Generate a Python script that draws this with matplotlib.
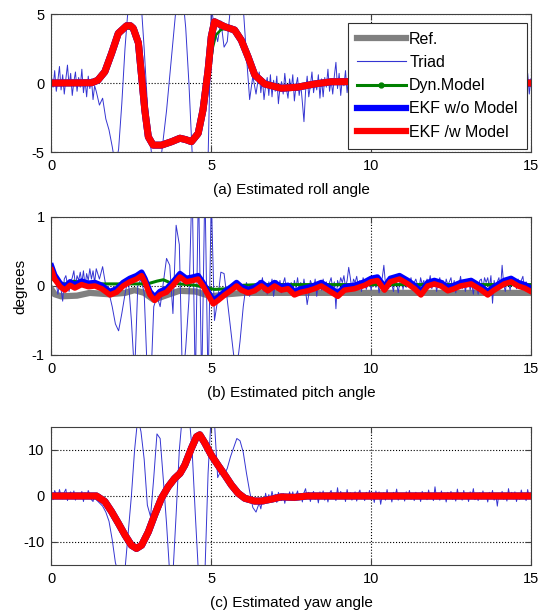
import numpy as np
import matplotlib.pyplot as plt
from matplotlib.lines import Line2D

plt.rcParams['font.family'] = ['Liberation Sans', 'DejaVu Sans']
plt.rcParams['axes.unicode_minus'] = False

# Triad samples: 0.05 s where it is just sensor noise, 0.1 s across the big swings
t_triad = np.concatenate([np.arange(28) * 0.05,
                          np.arange(14, 65) / 10.0,
                          6.5 + np.arange(171) * 0.05])

# ---- roll (a) ----
roll_triad = [
    # 0.00 - 1.35
    0.4, -0.3, 0.9, -0.6, 0.2, 1.2, -0.5, 0.6, -0.8, 0.3,
    1.3, -0.2, 0.7, -0.9, 0.1, 0.8, -0.6, 0.4, -0.3, 1.0,
    -0.7, 0.2, -1.0, 0.5, -0.4, 0.3, -1.2, -0.2,
    # 1.4 - 6.4
    -0.6, -1.6, -1.1, -2.6, -3.4, -4.6,
    -6.0, -4.8, -1.5, 2.5, 5.5, 8.0, 9.0, 8.0, 6.0, 2.5,
    -1.5, -4.5, -6.5, -7.5, -6.0, -4.0, -2.0, 0.5, 3.0, 5.5,
    7.0, 6.5, 4.0, 0.0, -5.0, -8.0, -9.0, -9.0, -8.0, -5.5,
    5.5, 4.0, 3.0, 4.5, 2.6, 3.0, 5.5, 7.5, 8.0, 7.5,
    5.5, 2.0, -1.2, 0.5, -0.8,
    # 6.5 - 15.0
    0.8, -0.7, 0.3, -1.2, -0.2, 0.4, -0.9, 0.6, -1.0, 0.2,
    -0.6, 0.5, -1.5, -0.3, 0.1, -0.8, 0.7, -0.4, -1.1, 0.3,
    -0.5, 0.6, -1.3, -0.2, 0.4, -0.9, -0.1, -1.4, -2.8, -0.6,
    0.5, -1.0, -0.2, 0.8, -0.7, 0.1, -0.5, 0.6, -1.1, 0.3,
    -1.0, 0.4, -0.3, 1.0, -0.6, 0.2, -0.8, 0.5, 1.5, -0.4,
    0.7, -0.9, 0.3, -0.2, 0.9, -0.7, 0.4, -0.5, 0.8, -0.3,
    0.5, -0.6, 0.3, -0.4, 0.7, -0.2, 0.4, -0.7, 0.2, 0.6,
    -0.5, 0.3, -0.3, 0.5, -0.6, 0.2, 0.4, -0.4, 0.6, -0.2,
    0.3, -0.5, 0.6, -0.3, 0.2, -0.6, 0.5, -0.2, 0.4, -0.5,
    0.3, -0.4, 0.6, -0.3, 0.2, -0.5, 0.4, -0.2, 0.5, -0.6,
    0.4, -0.3, 0.5, -0.6, 0.2, -0.4, 0.6, -0.2, 0.3, -0.5,
    0.4, -0.3, 0.6, -0.4, 0.2, -0.6, 0.5, -0.3, 0.4, -0.2,
    0.5, -0.4, 0.3, -0.6, 0.6, -0.2, 0.4, -0.5, 0.2, -0.3,
    0.6, -0.5, 0.3, -0.2, 0.5, -0.6, 0.4, -0.3, 0.2, -0.4,
    0.6, -0.3, 0.4, -0.5, 0.3, -0.6, 0.5, -0.2, 0.4, -0.4,
    0.2, -0.5, 0.6, -0.3, 0.3, -0.6, 0.5, -0.2, 0.4, -0.5,
    0.3, -0.4, 0.6, -0.3, 0.5, -0.6, 0.9, -0.5, 0.7, -0.8,
    0.3,
]
# Ref., EKF w/o and EKF /w model sit on top of each other in roll
roll_t = [0, 1.26, 1.45, 1.67, 1.88, 2.09, 2.35, 2.47, 2.56, 2.72, 2.82,
          2.92, 3.03, 3.18, 3.44, 3.76, 4.02, 4.2, 4.38, 4.59, 4.74,
          4.9, 5.0, 5.1, 5.42, 5.73, 5.94, 6.15, 6.36, 6.67, 7.19,
          7.7, 8.23, 8.75, 9.3, 10.0, 12.0, 15.0]
roll_ekf = [0, 0.02, 0.2, 0.82, 2.15, 3.6, 4.15, 4.15, 3.96, 2.9, 0.46,
            -1.96, -3.9, -4.5, -4.5, -4.25, -4.0, -4.1, -4.25, -3.65, -1.96,
            0.94, 3.36, 4.44, 4.08, 3.84, 3.1, 1.9, 0.58, -0.07, -0.38,
            -0.3, -0.07, 0.09, 0.1, 0.05, 0.0, 0.0]
roll_dyn_t = [0, 1.3, 1.67, 1.88, 2.09, 2.35, 2.56, 2.72, 2.82, 2.92,
              3.03, 3.13, 3.25, 3.45, 3.76, 4.02, 4.38, 4.6, 4.76, 4.92,
              5.05, 5.15, 5.3, 5.45, 5.73, 5.94, 6.15, 6.36, 6.67, 7.19,
              7.7, 8.23, 8.75, 9.3, 15.0]
roll_dyn = [0, 0, 0.8, 2.1, 3.5, 4.0, 3.85, 2.8, 0.4, -2.2,
            -3.6, -4.3, -4.6, -4.55, -4.3, -4.1, -4.3, -3.75, -2.2, 0.4,
            2.6, 3.5, 3.85, 3.95, 3.8, 3.05, 1.85, 0.55, -0.1, -0.4,
            -0.35, -0.1, 0.05, 0.1, 0.0]

# ---- pitch (b) ----
pitch_triad = [
    # 0.00 - 1.35
    0.30, 0.25, 0.18, 0.05, -0.12, 0.02, -0.05, -0.22, 0.10, 0.15,
    0.02, -0.08, 0.05, 0.12, 0.22, 0.00, 0.15, 0.08, 0.20, 0.05,
    0.22, 0.00, 0.18, 0.08, 0.25, 0.10, 0.22, 0.05,
    # 1.4 - 6.4
    0.25, 0.10, 0.28, 0.00, -0.10, -0.30,
    -0.55, -0.65, -0.40, -0.12, 0.12, -0.50, -1.30, 0.00, 0.10, -0.10,
    -1.30, -1.50, -0.30, -0.15, -0.30, 0.05, 0.40, 0.30, -0.40, 0.88,
    0.60, -1.40, -0.90, -0.20, 1.50, -1.50, 1.50, -1.50, 1.50, -1.50,
    1.30, -0.50, -0.20, 0.20, 0.18, -0.20, -0.60, -1.00, -1.20, -0.80,
    -0.30, 0.05, -0.15, 0.02, -0.10,
    # 6.5 - 15.0
    0.08, -0.05, 0.12, -0.08, 0.03, -0.12, 0.06, -0.04, 0.10, -0.15,
    0.02, 0.08, -0.05, 0.08, -0.10, 0.04, 0.12, -0.06, 0.02, -0.08,
    0.05, -0.10, 0.08, -0.03, 0.12, -0.06, 0.05, -0.08, 0.10, -0.06,
    -0.27, -0.12, 0.08, 0.02, -0.05, 0.10, -0.15, 0.06, 0.02, -0.06,
    0.10, -0.04, 0.06, -0.10, 0.05, 0.12, -0.04, 0.06, -0.33, 0.08,
    0.00, 0.12, 0.05, 0.15, -0.02, 0.08, 0.27, 0.12, -0.05, 0.10,
    0.05, 0.14, 0.00, 0.08, -0.08, 0.12, 0.05, -0.05, 0.04, 0.10,
    -0.06, 0.06, 0.15, -0.02, 0.08, -0.10, 0.05, 0.12, 0.30, 0.03,
    0.10, -0.04, 0.08, 0.02, -0.08, 0.12, 0.04, -0.10, 0.06, 0.15,
    -0.05, 0.08, -0.02, 0.10, 0.04, 0.12, -0.06, 0.05, 0.10, 0.02,
    -0.05, 0.12, 0.02, 0.08, -0.06, 0.10, 0.03, 0.15, -0.04, 0.06,
    0.10, -0.08, 0.05, 0.12, -0.03, 0.08, -0.06, 0.10, 0.02, 0.06,
    0.12, -0.05, 0.08, -0.10, 0.06, 0.02, 0.14, -0.04, 0.08, -0.08,
    0.05, 0.10, -0.06, 0.04, -0.12, 0.06, 0.02, -0.12, 0.08, 0.10,
    -0.04, 0.12, 0.05, 0.12, -0.02, 0.15, -0.25, 0.08, -0.05, 0.06,
    0.12, -0.04, 0.30, 0.02, -0.08, 0.08, 0.05, -0.06, 0.10, 0.02,
    0.06, -0.04, 0.10, -0.02, 0.08, 0.14, -0.05, 0.06, 0.02, -0.03,
    0.02,
]
pitch_t = [0, 0.1, 0.27, 0.42, 0.58, 0.73, 0.94, 1.15, 1.36, 1.57,
           1.83, 2.04, 2.24, 2.45, 2.66, 2.82, 2.92, 3.08, 3.23, 3.39,
           3.6, 3.8, 4.02, 4.22, 4.43, 4.59, 4.74, 4.9, 5.06, 5.21,
           5.42, 5.63, 5.79, 5.94, 6.15, 6.35, 6.57, 6.77, 6.98, 7.19,
           7.4, 7.6, 7.81, 8.02, 8.23, 8.44, 8.65, 8.96, 9.17, 9.48,
           9.8, 10.0, 10.2, 10.42, 10.6, 10.89, 11.15, 11.36, 11.56, 11.77,
           11.98, 12.19, 12.4, 12.6, 12.8, 13.13, 13.45, 13.65, 13.85, 14.17,
           14.38, 14.6, 14.8, 15.0]
pitch_ekf = [0.23, 0.10, -0.01, -0.06, 0.01, -0.03, 0.02, -0.01, 0.0, -0.04,
             -0.13, -0.09, 0.0, 0.06, 0.10, 0.15, 0.06, -0.13, -0.21, -0.13,
             -0.09, 0.01, 0.13, 0.06, 0.08, 0.10, 0.0, -0.13, -0.26, -0.21,
             -0.13, -0.06, 0.0, -0.06, -0.10, -0.07, 0.0, -0.07, 0.0, -0.06,
             -0.04, -0.13, -0.09, -0.07, -0.04, 0.0, -0.06, -0.15, -0.06, -0.04,
             0.01, 0.06, 0.08, -0.06, 0.06, 0.10, 0.03, -0.04, -0.13, 0.0,
             0.03, 0.0, -0.07, -0.04, 0.0, 0.03, -0.06, -0.13, -0.06, 0.03,
             0.06, 0.0, -0.03, -0.08]
pitch_ekf_nomodel = [0.29, 0.16, 0.04, -0.01, 0.06, 0.02, 0.07, 0.04, 0.05, 0.01,
                     -0.08, -0.04, 0.05, 0.11, 0.15, 0.20, 0.11, -0.08, -0.16, -0.08,
                     -0.04, 0.06, 0.18, 0.11, 0.13, 0.15, 0.05, -0.08, -0.21, -0.16,
                     -0.08, -0.01, 0.05, -0.01, -0.05, -0.02, 0.05, -0.02, 0.05, -0.01,
                     0.01, -0.08, -0.04, -0.02, 0.01, 0.05, -0.01, -0.10, -0.01, 0.01,
                     0.06, 0.11, 0.13, -0.01, 0.11, 0.15, 0.08, 0.01, -0.08, 0.05,
                     0.08, 0.05, -0.02, 0.01, 0.05, 0.08, -0.01, -0.08, -0.01, 0.08,
                     0.11, 0.05, 0.02, -0.03]
pitch_ref_t = [0, 0.1, 0.3, 0.8, 1.2, 1.8, 2.3, 2.6, 2.9, 3.2, 3.5, 4.0,
               4.5, 5.0, 5.5, 6.0, 15.0]
pitch_ref = [-0.05, -0.12, -0.15, -0.14, -0.10, -0.12, -0.10, -0.06, -0.10,
             -0.20, -0.15, -0.07, -0.08, -0.15, -0.12, -0.10, -0.10]
pitch_dyn_t = [0, 0.2, 0.5, 0.7, 1.0, 2.0, 2.5, 3.0, 3.3, 3.5, 3.7, 4.0,
               4.5, 4.8, 5.1, 5.5, 6.0, 6.5, 15.0]
pitch_dyn = [0.12, 0.03, 0.03, 0.07, 0.03, 0.03, 0.03, 0.03, 0.07, 0.09,
             0.05, 0.03, 0.01, -0.02, -0.05, -0.04, 0.01, 0.02, 0.02]

# ---- yaw (c) ----
yaw_triad = [
    # 0.00 - 1.35
    0.5, -0.8, 1.2, 0.3, -0.5, 1.4, 0.0, -0.6, 0.8, 1.5,
    -1.0, 0.4, 0.9, -0.3, 1.1, -0.9, 0.6, 0.2, -0.5, 1.0,
    -1.2, 0.7, -0.4, 1.2, 0.3, -0.8, -1.2, 0.4,
    # 1.4 - 6.4
    -0.8, -1.5, -2.2, -3.5, -5.5, -9.5,
    -14.5, -17.0, -18.0, -16.0, -8.0, 0.0, 10.0, 17.0, 14.0, 8.0,
    -2.0, -4.5, 4.0, 13.5, 12.5, 3.5, -6.0, -17.0, -17.0, -4.0,
    10.0, 18.0, 20.0, 18.0, 10.0, -4.0, -17.0, -20.0, -17.0, 5.0,
    18.0, 16.0, 4.0, 5.5, 4.5, 6.0, 8.5, 10.5, 12.5, 12.0,
    9.5, 5.0, 1.0, -2.5, -3.5,
    # 6.5 - 15.0
    -1.5, -2.8, -0.8, -1.8, 0.6, -1.2, 0.3, -0.9, 1.0, -0.5,
    0.4, -1.4, 0.8, -0.3, -1.0, 0.5, -1.6, 0.2, -0.7, 0.9,
    -0.6, 0.9, -1.0, 0.2, 1.1, -0.8, 0.5, -1.3, 0.7, 1.6,
    -0.4, 0.8, -1.2, 0.3, 1.0, -0.7, 0.5, -1.5, 0.9, -0.2,
    1.1, -0.9, 0.4, -1.3, 0.6, 1.2, -0.5, 0.3, -1.0, 1.8,
    -0.6, 1.0, -0.3, 0.5, -1.2, 1.4, -0.4, 0.7, -0.9, 0.2,
    0.9, -1.1, 0.5, 1.3, -0.6, 0.3, -1.0, 0.8, -0.4, 1.2,
    -0.8, 0.4, -1.4, 1.1, -0.5, 0.9, -1.8, 0.2, 0.7, -0.9,
    1.4, -0.6, 0.5, -1.3, 0.8, -0.2, 1.5, -0.9, 0.4, -0.5,
    0.6, -1.1, 0.9, -0.3, 1.2, -0.7, 0.4, -1.0, 0.8, -0.4,
    0.5, -1.2, 1.0, -0.3, 0.7, -0.8, 1.3, -0.5, 0.2, -1.0,
    2.0, -0.6, 0.4, -0.9, 1.1, -0.4, 0.6, -1.3, 0.8, -0.2,
    1.0, -0.7, 0.3, -1.1, 1.5, -0.4, 0.6, -0.9, 1.2, -0.5,
    0.4, -1.2, 0.9, -0.3, 1.6, -0.8, 0.2, -1.0, 0.7, -0.6,
    1.1, -0.5, 0.4, -1.3, 0.8, -0.2, 1.2, -0.9, 0.5, -2.2,
    0.6, -0.4, 1.0, -0.7, 0.3, -1.1, 1.6, -0.5, 0.8, -0.6,
    0.9, -1.2, 0.4, -0.7, 1.3, -0.3, 0.6, -1.0, 1.4, -0.5,
    0.6,
]
yaw_t = [0, 1.41, 1.67, 1.88, 2.09, 2.3, 2.5, 2.66, 2.82, 3.03,
         3.23, 3.44, 3.65, 3.85, 4.02, 4.17, 4.38, 4.54, 4.64, 4.8,
         5.0, 5.21, 5.42, 5.63, 5.84, 6.05, 6.36, 6.57, 6.88, 7.19,
         7.6, 8.0, 9.0, 15.0]
yaw_ekf = [0, 0, -1.2, -3.4, -5.9, -8.5, -10.7, -11.4, -10.7, -7.8,
           -4.1, -0.5, 2.0, 3.8, 4.9, 6.7, 10.4, 12.9, 13.3, 11.5,
           8.9, 6.7, 4.6, 2.4, 0.6, -0.5, -1.1, -1.1, -0.7, -0.2,
           -0.3, 0.0, 0.0, 0.0]

xticks = [0, 5, 10, 15]
labels = ['(a) Estimated roll angle', '(b) Estimated pitch angle',
          '(c) Estimated yaw angle']

c_ref = '#808080'
c_triad = '#3535d2'
c_dyn = '#008000'
c_nom = '#0000ff'
c_mod = '#ff0000'

fig = plt.figure(figsize=(5.46, 6.15), dpi=100)
left, width, height = 0.0943, 0.878, 0.2244
ax1 = fig.add_axes([left, 0.7528, width, height])
ax2 = fig.add_axes([left, 0.4228, width, height])
ax3 = fig.add_axes([left, 0.0813, width, height])

# roll
ax1.plot(roll_t, roll_ekf, color=c_ref, lw=5)
ax1.plot(t_triad, roll_triad, color=c_triad, lw=0.7)
ax1.plot(roll_dyn_t, roll_dyn, color=c_dyn, lw=1.8)
ax1.plot(roll_t, roll_ekf, color=c_nom, lw=5)
ax1.plot(roll_t, roll_ekf, color=c_mod, lw=5)
ax1.set_ylim(-5, 5)
ax1.set_yticks([-5, 0, 5])

# pitch
ax2.plot(pitch_ref_t, pitch_ref, color=c_ref, lw=4.5)
ax2.plot(t_triad, pitch_triad, color=c_triad, lw=0.7)
ax2.plot(pitch_dyn_t, pitch_dyn, color=c_dyn, lw=2.2)
ax2.plot(pitch_t, pitch_ekf_nomodel, color=c_nom, lw=4.0)
ax2.plot(pitch_t, pitch_ekf, color=c_mod, lw=4.0)
ax2.set_ylim(-1, 1)
ax2.set_yticks([-1, 0, 1])
ax2.set_ylabel('degrees', fontsize=11, labelpad=3)

# yaw
ax3.plot(yaw_t, yaw_ekf, color=c_ref, lw=5)
ax3.plot(t_triad, yaw_triad, color=c_triad, lw=0.7)
ax3.plot(yaw_t, yaw_ekf, color=c_nom, lw=5)
ax3.plot(yaw_t, yaw_ekf, color=c_mod, lw=5)
ax3.set_ylim(-15, 15)
ax3.set_yticks([-10, 0, 10])

for ax, lab in zip([ax1, ax2, ax3], labels):
    ax.set_xlim(0, 15)
    ax.set_xticks(xticks)
    ax.grid(True, linestyle=':', color='black', linewidth=0.8)
    ax.set_axisbelow(True)
    ax.tick_params(direction='in', top=True, right=True, length=4,
                   labelsize=10.5, pad=5, color='#404040')
    for s in ax.spines.values():
        s.set_color('#404040')
        s.set_linewidth(0.8)
    ax.set_xlabel(lab, fontsize=11, labelpad=7)

handles = [
    Line2D([], [], color=c_ref, lw=4.5),
    Line2D([], [], color=c_triad, lw=0.8),
    Line2D([], [], color=c_dyn, lw=2.2, marker='.', markersize=7),
    Line2D([], [], color=c_nom, lw=4.5),
    Line2D([], [], color=c_mod, lw=4.5),
]
names = ['Ref.', 'Triad', 'Dyn.Model', 'EKF w/o Model', 'EKF /w Model']
leg = ax1.legend(handles, names, loc='upper left', bbox_to_anchor=(0.618, 0.937),
                 fontsize=11.5, handlelength=3.1, handletextpad=0.2,
                 labelspacing=0.52, borderpad=0.55, borderaxespad=0,
                 fancybox=False, framealpha=1, edgecolor='#303030', numpoints=1)
leg.get_frame().set_linewidth(0.8)

fig.savefig('out.png', dpi=100)
